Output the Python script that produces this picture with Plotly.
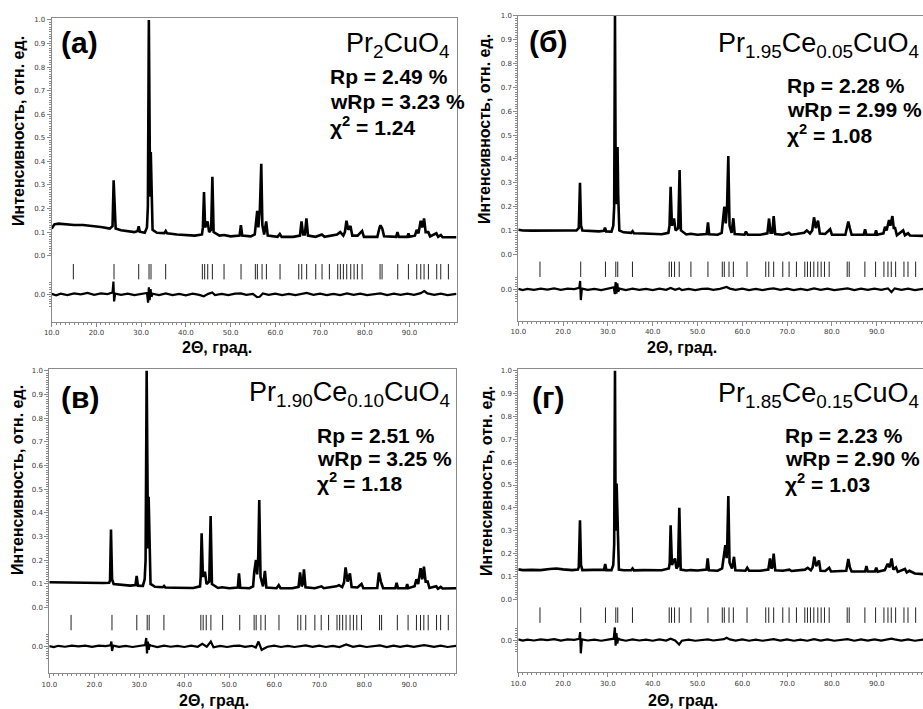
import plotly.graph_objects as go
import numpy as np

W, H = 923, 709

# ---------------- data ----------------
# Bragg reflection positions (2theta, deg)
REFL_TT = [14.84, 23.93, 29.45, 31.76, 32.2, 35.48, 43.68, 44.2, 44.88, 45.92,
           48.53, 52.33, 55.53, 55.98, 57.03, 58.0, 61.05, 65.23, 65.9, 67.0,
           69.03, 70.44, 72.08, 73.95, 74.54, 75.21, 75.96, 76.85, 77.6, 78.34,
           79.39, 83.41, 83.86, 87.36, 89.75, 91.61, 92.51, 93.25, 94.22, 96.08,
           96.98, 98.69]

# observed pattern (2theta, relative intensity)
OBS_A = [(10.0,0.115),(10.6,0.133),(11.5,0.136),(13,0.133),(15,0.13),(17,0.13),(19,0.127),
         (21,0.122),(23.0,0.115),(23.6,0.125),(23.85,0.32),(24.05,0.2),(24.3,0.115),(25.5,0.108),
         (27,0.103),(28.5,0.1),(29.2,0.105),(29.45,0.125),(29.7,0.102),(30.8,0.097),(31.3,0.12),
         (31.5,0.21),(31.72,1.0),(31.85,0.3),(32.0,0.25),(32.15,0.44),(32.3,0.3),(32.55,0.11),
         (33.5,0.097),(35.2,0.096),(35.5,0.105),(35.8,0.095),(38,0.09),(40,0.087),(42,0.085),
         (43.6,0.09),(43.8,0.12),(44.05,0.27),(44.3,0.12),(44.85,0.145),(45.2,0.1),(45.65,0.11),
         (45.92,0.335),(46.2,0.1),(47.5,0.085),(48.5,0.088),(50,0.082),(52.0,0.085),(52.3,0.13),
         (52.6,0.085),(54.5,0.082),(55.4,0.09),(55.6,0.14),(55.95,0.19),(56.2,0.12),(56.55,0.2),
         (56.85,0.39),(57.1,0.13),(57.5,0.09),(57.95,0.145),(58.3,0.085),(60.5,0.08),(61.0,0.092),
         (61.4,0.08),(64,0.08),(65.5,0.085),(65.85,0.145),(66.2,0.09),(66.6,0.09),(66.95,0.158),
         (67.3,0.085),(69,0.08),(70.4,0.09),(71,0.08),(73.8,0.09),(74.5,0.1),(75.2,0.085),
         (75.55,0.1),(75.9,0.148),(76.3,0.11),(76.8,0.126),(77.2,0.085),(78.4,0.085),(79.4,0.105),
         (79.8,0.08),(82.8,0.08),(83.3,0.12),(83.5,0.129),(83.9,0.115),(84.3,0.082),(87.0,0.08),
         (87.3,0.1),(87.6,0.08),(89.5,0.08),(89.75,0.095),(90.0,0.08),(91.2,0.085),(91.6,0.11),
         (92.0,0.095),(92.5,0.148),(92.85,0.12),(93.25,0.158),(93.6,0.1),(94.2,0.1),(94.6,0.082),
         (96.0,0.095),(96.4,0.08),(97.0,0.088),(97.4,0.078),(100.5,0.078)]

OBS_B = [(10.0,0.103),(11,0.1),(13,0.099),(15,0.1),(17,0.101),(19,0.102),(21,0.1),(23.0,0.1),
         (23.5,0.11),(23.77,0.30),(24.0,0.12),(24.3,0.1),(26,0.098),(28,0.096),(29.1,0.098),
         (29.35,0.112),(29.6,0.096),(30.8,0.095),(31.2,0.12),(31.4,0.2),(31.58,1.0),(31.75,0.25),
         (31.95,0.21),(32.15,0.45),(32.3,0.25),(32.55,0.1),(33.5,0.092),(35.2,0.09),(35.5,0.097),
         (35.8,0.088),(38,0.087),(40,0.085),(42,0.084),(43.5,0.09),(43.75,0.12),(44.0,0.283),
         (44.3,0.12),(44.75,0.15),(45.1,0.1),(45.7,0.11),(46.0,0.353),(46.3,0.1),(47.5,0.083),
         (48.5,0.086),(50,0.082),(52.05,0.085),(52.34,0.134),(52.6,0.084),(54.5,0.082),(55.4,0.09),
         (55.6,0.14),(55.99,0.2),(56.3,0.13),(56.6,0.2),(56.87,0.412),(57.15,0.12),(57.6,0.09),
         (57.99,0.151),(58.3,0.085),(60.5,0.082),(60.8,0.095),(61.2,0.082),(64,0.082),(65.6,0.088),
         (65.97,0.15),(66.3,0.09),(66.7,0.09),(67.0,0.16),(67.35,0.085),(69,0.082),(70.4,0.09),
         (70.9,0.082),(72.1,0.085),(73.8,0.09),(74.4,0.1),(75.1,0.087),(75.6,0.1),(76.0,0.155),
         (76.4,0.11),(76.9,0.141),(77.3,0.087),(78.5,0.085),(79.6,0.105),(80.0,0.082),(83.0,0.082),
         (83.45,0.125),(83.66,0.137),(84.0,0.11),(84.4,0.082),(87.1,0.082),(87.4,0.105),(87.7,0.082),
         (89.6,0.082),(89.85,0.1),(90.1,0.082),(91.5,0.088),(91.85,0.115),(92.2,0.1),(92.75,0.144),
         (93.05,0.12),(93.5,0.16),(93.8,0.11),(94.1,0.11),(94.5,0.08),(95.9,0.1),(96.3,0.08),
         (97.0,0.088),(97.4,0.079),(100.5,0.077)]

OBS_C = [(10.0,0.107),(12,0.106),(14,0.105),(16,0.106),(18,0.105),(20,0.105),(22,0.104),
         (23.3,0.105),(23.5,0.115),(23.71,0.33),(23.95,0.12),(24.3,0.1),(26,0.096),(28,0.093),
         (29.15,0.095),(29.42,0.134),(29.7,0.093),(30.8,0.092),(31.2,0.12),(31.4,0.2),(31.64,1.0),
         (31.8,0.3),(31.95,0.25),(32.08,0.468),(32.25,0.3),(32.5,0.1),(33.5,0.088),(35.2,0.086),
         (35.5,0.092),(35.8,0.085),(38,0.084),(40,0.084),(42,0.083),(43.5,0.09),(43.65,0.13),
         (43.86,0.314),(44.15,0.13),(44.6,0.152),(44.95,0.1),(45.55,0.11),(45.86,0.387),(46.15,0.1),
         (47.5,0.083),(48.4,0.086),(50,0.082),(51.9,0.085),(52.16,0.145),(52.45,0.084),(54.5,0.082),
         (55.3,0.09),(55.55,0.15),(55.93,0.201),(56.2,0.14),(56.45,0.22),(56.67,0.454),(56.95,0.13),
         (57.5,0.09),(57.93,0.155),(58.25,0.085),(60.5,0.082),(61.0,0.095),(61.4,0.082),(64,0.082),
         (65.4,0.088),(65.74,0.149),(66.1,0.09),(66.35,0.1),(66.6,0.162),(66.95,0.086),(69,0.082),
         (70.5,0.09),(71,0.082),(72.2,0.085),(73.8,0.09),(74.4,0.095),(75.1,0.087),(75.5,0.105),
         (75.86,0.17),(76.3,0.11),(76.82,0.145),(77.2,0.087),(78.5,0.085),(79.4,0.1),(79.8,0.082),
         (82.9,0.083),(83.27,0.148),(83.7,0.11),(84.2,0.082),(86.9,0.082),(87.2,0.105),(87.5,0.082),
         (89.3,0.082),(89.55,0.1),(89.8,0.082),(91.2,0.09),(91.6,0.12),(92.0,0.1),(92.53,0.167),
         (92.9,0.12),(93.27,0.173),(93.65,0.11),(94.1,0.11),(94.5,0.083),(96.0,0.09),(96.4,0.08),
         (97.0,0.088),(97.4,0.081),(100.5,0.082)]

OBS_D = [(10.0,0.131),(11,0.128),(13,0.129),(15,0.128),(17,0.133),(18.5,0.135),(20,0.131),
         (22,0.128),(23.3,0.13),(23.5,0.14),(23.77,0.346),(24.0,0.15),(24.3,0.128),(26,0.128),
         (28,0.127),(29.15,0.13),(29.4,0.155),(29.65,0.128),(30.8,0.128),(31.2,0.15),(31.4,0.24),
         (31.58,1.0),(31.72,0.35),(31.85,0.3),(31.95,0.506),(32.15,0.3),(32.45,0.13),(33.5,0.127),
         (35.2,0.127),(35.5,0.135),(35.8,0.127),(38,0.128),(40,0.128),(42,0.127),(43.6,0.135),
         (43.8,0.16),(44.0,0.324),(44.3,0.15),(44.97,0.179),(45.3,0.135),(45.65,0.145),(45.94,0.4),
         (46.25,0.13),(47.5,0.126),(48.5,0.128),(50,0.126),(52.0,0.13),(52.27,0.179),(52.55,0.127),
         (54.5,0.125),(55.5,0.135),(55.8,0.17),(56.21,0.237),(56.5,0.18),(56.65,0.25),(56.88,0.452),
         (57.15,0.16),(57.7,0.135),(58.15,0.186),(58.45,0.127),(60.7,0.125),(61.1,0.138),(61.5,0.125),
         (64,0.125),(65.8,0.13),(66.18,0.179),(66.5,0.135),(66.7,0.14),(67.0,0.2),(67.35,0.127),
         (69,0.125),(70.5,0.13),(71,0.124),(74.0,0.13),(74.6,0.138),(75.3,0.127),(75.7,0.14),
         (76.07,0.186),(76.5,0.145),(77.11,0.17),(77.45,0.125),(78.5,0.124),(79.4,0.138),(79.8,0.122),
         (83.2,0.125),(83.66,0.176),(84.0,0.14),(84.4,0.122),(87.4,0.122),(87.7,0.145),(88.0,0.122),
         (89.6,0.122),(89.9,0.138),(90.2,0.121),(91.8,0.128),(92.45,0.155),(92.9,0.14),(93.33,0.179),
         (93.7,0.13),(94.3,0.14),(94.7,0.12),(96.3,0.133),(96.7,0.118),(97.3,0.125),(98.5,0.113),
         (100.5,0.11)]

# difference curves (obs - calc) on a shared 2theta grid
RES_TT = [10, 11, 12, 13.5, 15, 16.5, 18, 19.5, 21, 22.5,
          23.6, 23.8, 23.95, 24.2, 25.5, 27, 28.5, 30, 31.3, 31.55,
          31.72, 31.9, 32.1, 32.3, 32.6, 34, 35.5, 37, 38.5, 40,
          41.5, 43, 44, 45, 45.9, 46.5, 48, 49.5, 51, 52.3,
          53.5, 55, 55.9, 56.5, 57.2, 58.5, 60, 61.5, 63, 64.5,
          66, 67, 68.5, 70, 71.5, 73, 74.5, 76, 77.5, 79,
          80.5, 82, 83.5, 85, 86.5, 88, 89.5, 91, 92.5, 93.3,
          94, 95.5, 97, 98.5, 100.5]
RES_A = [0.002, -0.004, 0.003, -0.003, 0.004, 0.000, 0.006, -0.002, 0.004, 0.001,
         0.008, 0.054, -0.03, 0.003, -0.002, 0.003, -0.003, 0.002, 0.006, -0.035,
         0.03, -0.025, 0.022, -0.01, 0.003, -0.003, 0.004, -0.003, 0.002, -0.004,
         0.003, -0.002, -0.008, 0.002, 0.008, -0.003, 0.002, -0.003, 0.003, 0.004,
         -0.002, 0.002, -0.012, -0.01, 0.004, -0.002, 0.003, -0.003, 0.002, -0.003,
         0.002, 0.006, -0.002, 0.003, -0.003, 0.002, -0.003, 0.004, -0.002, 0.003,
         -0.003, 0.002, 0.004, -0.003, 0.003, -0.002, 0.003, -0.002, 0.005, 0.014,
         0.004, -0.002, 0.003, -0.003, 0.002]
RES_B = [0.002, -0.003, 0.002, -0.002, 0.003, -0.001, 0.004, -0.002, 0.003, 0.001,
         0.006, 0.035, -0.045, 0.003, -0.002, 0.002, -0.003, 0.002, 0.008, -0.02,
         0.03, -0.018, 0.025, -0.01, 0.003, -0.003, 0.003, -0.002, 0.002, -0.003,
         0.003, -0.002, 0.006, -0.002, 0.004, -0.003, 0.002, -0.003, 0.002, 0.003,
         -0.002, 0.002, 0.006, 0.01, 0.003, -0.002, 0.003, -0.003, 0.002, -0.003,
         0.002, 0.004, -0.002, 0.003, -0.003, 0.002, -0.003, 0.004, -0.002, 0.003,
         -0.003, 0.002, 0.004, -0.003, 0.003, -0.002, 0.003, -0.002, 0.004, -0.012,
         0.004, -0.002, 0.003, -0.003, 0.002]
RES_C = [0.001, -0.003, 0.002, -0.002, 0.003, 0.000, 0.003, -0.002, 0.003, 0.001,
         0.004, 0.02, -0.02, 0.003, -0.002, 0.002, -0.003, 0.002, 0.005, 0.035,
         -0.03, 0.02, -0.015, 0.006, 0.003, -0.003, 0.003, -0.002, 0.002, -0.003,
         0.003, -0.002, 0.01, -0.002, 0.02, -0.004, 0.002, -0.003, 0.002, 0.003,
         -0.002, 0.002, -0.005, 0.02, -0.015, -0.002, 0.003, -0.003, 0.002, -0.003,
         0.002, 0.004, -0.002, 0.003, -0.003, 0.002, -0.003, 0.008, -0.002, 0.003,
         -0.003, 0.002, 0.004, -0.003, 0.003, -0.002, 0.003, -0.002, 0.003, 0.005,
         0.003, -0.002, 0.003, -0.003, 0.002]
RES_D = [0.003, -0.002, 0.002, -0.002, 0.003, 0.000, 0.004, -0.002, 0.003, 0.001,
         0.005, 0.035, -0.058, 0.003, -0.002, 0.002, -0.003, 0.002, 0.006, 0.055,
         -0.025, 0.03, -0.015, 0.008, 0.003, -0.003, 0.003, -0.002, 0.002, -0.003,
         0.003, -0.002, 0.006, -0.002, -0.02, -0.003, 0.002, -0.003, 0.002, 0.003,
         -0.002, 0.002, 0.004, 0.01, 0.003, -0.002, 0.003, -0.003, 0.002, -0.003,
         0.002, 0.004, -0.002, 0.003, -0.003, 0.002, -0.003, 0.004, -0.002, 0.003,
         -0.003, 0.002, 0.004, -0.003, 0.003, -0.002, 0.003, -0.002, 0.003, 0.006,
         0.003, -0.002, 0.003, -0.003, 0.002]

Y_TICKS = [0.0, 0.1, 0.2, 0.3, 0.4, 0.5, 0.6, 0.7, 0.8, 0.9, 1.0]
Y_TICK_TEXT = ["0.0", "0.1", "0.2", "0.3", "0.4", "0.5", "0.6", "0.7", "0.8", "0.9", "1.0"]
RES_TICKS = [0.0]
RES_TICK_TEXT = ["0.0"]
X_TICKS = [10, 20, 30, 40, 50, 60, 70, 80, 90]
X_TICK_TEXT = ["10.0", "20.0", "30.0", "40.0", "50.0", "60.0", "70.0", "80.0", "90.0"]

LABELS = ["(a)", "(б)", "(в)", "(г)"]
FORMULAS = ["Pr<sub>2</sub>CuO<sub>4</sub>",
            "Pr<sub>1.95</sub>Ce<sub>0.05</sub>CuO<sub>4</sub>",
            "Pr<sub>1.90</sub>Ce<sub>0.10</sub>CuO<sub>4</sub>",
            "Pr<sub>1.85</sub>Ce<sub>0.15</sub>CuO<sub>4</sub>"]
RP = ["2.49", "2.28", "2.51", "2.23"]
WRP = ["3.23", "2.99", "3.25", "2.90"]
CHI2 = ["1.24", "1.08", "1.18", "1.03"]
Y_TITLE = "Интенсивность, отн. ед."
X_TITLE = "2Θ, град."

OBS = [OBS_A, OBS_B, OBS_C, OBS_D]
RES = [RES_A, RES_B, RES_C, RES_D]

# ---------------- layout geometry (pixels) ----------------
GEOM = [
    dict(L=51.7, R=456.5, T=18.3, B=321.7, xmax=100.5, ytop=1.007, ybot=-0.280, roff=-0.164, refl=-0.068,
         mirror=True, lab=(59, 42.5), form=(452, 45), stats=(328, [76.7, 101.7, 125.5]),
         ytit=(18.5, 131.5), xtit=(217, 347)),
    dict(L=518.3, R=923, T=15.7, B=321.0, xmax=100.33, ytop=1.001, ybot=-0.280, roff=-0.147, refl=-0.063,
         mirror=False, lab=(527, 41), form=(921, 45), stats=(785, [85, 110, 133.5]),
         ytit=(485, 129), xtit=(682, 347)),
    dict(L=49.3, R=456, T=369.3, B=673.3, xmax=100.4, ytop=1.006, ybot=-0.277, roff=-0.163, refl=-0.063,
         mirror=True, lab=(59, 397), form=(452, 394), stats=(315, [435, 458, 482]),
         ytit=(18, 480), xtit=(214, 700)),
    dict(L=518.3, R=923, T=369.3, B=672.3, xmax=100.33, ytop=1.006, ybot=-0.319, roff=-0.178, refl=-0.069,
         mirror=False, lab=(530, 397), form=(921, 395), stats=(783, [435, 458.5, 483]),
         ytit=(487, 481), xtit=(683, 700)),
]

AX = "#8a8a8a"
TICKFONT = dict(family="DejaVu Sans", size=7, color="#3a3a3a")
TXT = "Liberation Sans"


def px(x):
    return x / W


def py(y):
    return 1 - y / H


fig = go.Figure()
layout = {}
annotations = []
minor_main = [round(v, 2) for v in np.arange(0.0, 1.0001, 0.01)]
minor_res = [round(v, 2) for v in np.arange(-0.05, 0.0501, 0.01)]

for i, g in enumerate(GEOM):
    n = i + 1
    xname = "xaxis" if n == 1 else f"xaxis{n}"
    xref = "x" if n == 1 else f"x{n}"
    ym, yr = 2 * i + 1, 2 * i + 2
    ymname = "yaxis" if ym == 1 else f"yaxis{ym}"
    ymref = "y" if ym == 1 else f"y{ym}"
    yrname = f"yaxis{yr}"
    yrref = f"y{yr}"

    assert len(RES[i]) == len(RES_TT)
    tt, inten = zip(*OBS[i])
    fig.add_trace(go.Scatter(x=list(tt), y=list(inten), xaxis=xref, yaxis=ymref, mode="lines",
                             line=dict(color="black", width=2.6), showlegend=False, hoverinfo="skip"))
    fig.add_trace(go.Scatter(x=REFL_TT, y=[g["refl"]] * len(REFL_TT), xaxis=xref, yaxis=ymref,
                             mode="markers",
                             marker=dict(symbol="line-ns", size=11, color="#222",
                                         line=dict(width=1, color="#222")),
                             showlegend=False, hoverinfo="skip"))
    fig.add_trace(go.Scatter(x=RES_TT, y=RES[i], xaxis=xref, yaxis=yrref, mode="lines",
                             line=dict(color="black", width=2.2), showlegend=False, hoverinfo="skip"))

    ydom = [py(g["B"]), py(g["T"])]
    layout[xname] = dict(domain=[px(g["L"]), px(g["R"])], range=[10, g["xmax"]], anchor=ymref,
                         tickmode="array", tickvals=X_TICKS, ticktext=X_TICK_TEXT,
                         ticks="outside", ticklen=4, tickcolor=AX, tickwidth=1,
                         showline=True, linecolor=AX, linewidth=1, mirror=True,
                         showgrid=False, zeroline=False, tickfont=TICKFONT, automargin=False,
                         minor=dict(ticks="outside", ticklen=2, dtick=1, tick0=10,
                                    tickcolor=AX, showgrid=False))
    layout[ymname] = dict(domain=ydom, range=[g["ybot"], g["ytop"]], anchor=xref,
                          tickmode="array", tickvals=Y_TICKS, ticktext=Y_TICK_TEXT,
                          ticks="outside", ticklen=4, tickcolor=AX, tickwidth=1,
                          showline=True, linecolor=AX, linewidth=1, mirror=g["mirror"],
                          showgrid=False, zeroline=False, tickfont=TICKFONT, automargin=False,
                          minor=dict(tickmode="array", tickvals=minor_main, ticks="outside",
                                     ticklen=2, tickcolor=AX, showgrid=False))
    layout[yrname] = dict(domain=ydom, overlaying=ymref, anchor=xref, side="left",
                          range=[g["ybot"] - g["roff"], g["ytop"] - g["roff"]],
                          tickmode="array", tickvals=RES_TICKS, ticktext=RES_TICK_TEXT,
                          ticks="outside", ticklen=4, tickcolor=AX, tickwidth=1,
                          showline=False, showgrid=False, zeroline=False, tickfont=TICKFONT,
                          automargin=False,
                          minor=dict(tickmode="array", tickvals=minor_res, ticks="outside",
                                     ticklen=2, tickcolor=AX, showgrid=False))

    annotations.append(dict(x=px(g["lab"][0]), y=py(g["lab"][1]), xref="paper", yref="paper",
                            xanchor="left", yanchor="middle", showarrow=False,
                            text=f"<b>{LABELS[i]}</b>",
                            font=dict(family=TXT, size=30, color="black")))
    annotations.append(dict(x=px(g["form"][0]), y=py(g["form"][1]), xref="paper", yref="paper",
                            xanchor="right", yanchor="middle", showarrow=False,
                            text=FORMULAS[i], font=dict(family=TXT, size=27, color="black")))
    lines = [f"<b>Rp = {RP[i]} %</b>", f"<b>wRp = {WRP[i]} %</b>",
             f"<b>χ<sup>2</sup> = {CHI2[i]}</b>"]
    for t, yy in zip(lines, g["stats"][1]):
        annotations.append(dict(x=px(g["stats"][0]), y=py(yy), xref="paper", yref="paper",
                                xanchor="left", yanchor="middle", showarrow=False, text=t,
                                font=dict(family=TXT, size=21, color="black")))
    annotations.append(dict(x=px(g["ytit"][0]), y=py(g["ytit"][1]), xref="paper", yref="paper",
                            xanchor="center", yanchor="middle", showarrow=False, textangle=-90,
                            text=f"<b>{Y_TITLE}</b>", font=dict(family=TXT, size=16, color="black")))
    annotations.append(dict(x=px(g["xtit"][0]), y=py(g["xtit"][1]), xref="paper", yref="paper",
                            xanchor="center", yanchor="middle", showarrow=False,
                            text=f"<b>{X_TITLE}</b>", font=dict(family=TXT, size=16, color="black")))

fig.update_layout(width=W, height=H, margin=dict(l=0, r=0, t=0, b=0),
                  paper_bgcolor="white", plot_bgcolor="white", showlegend=False,
                  annotations=annotations, **layout)

fig.write_html("out.html")
